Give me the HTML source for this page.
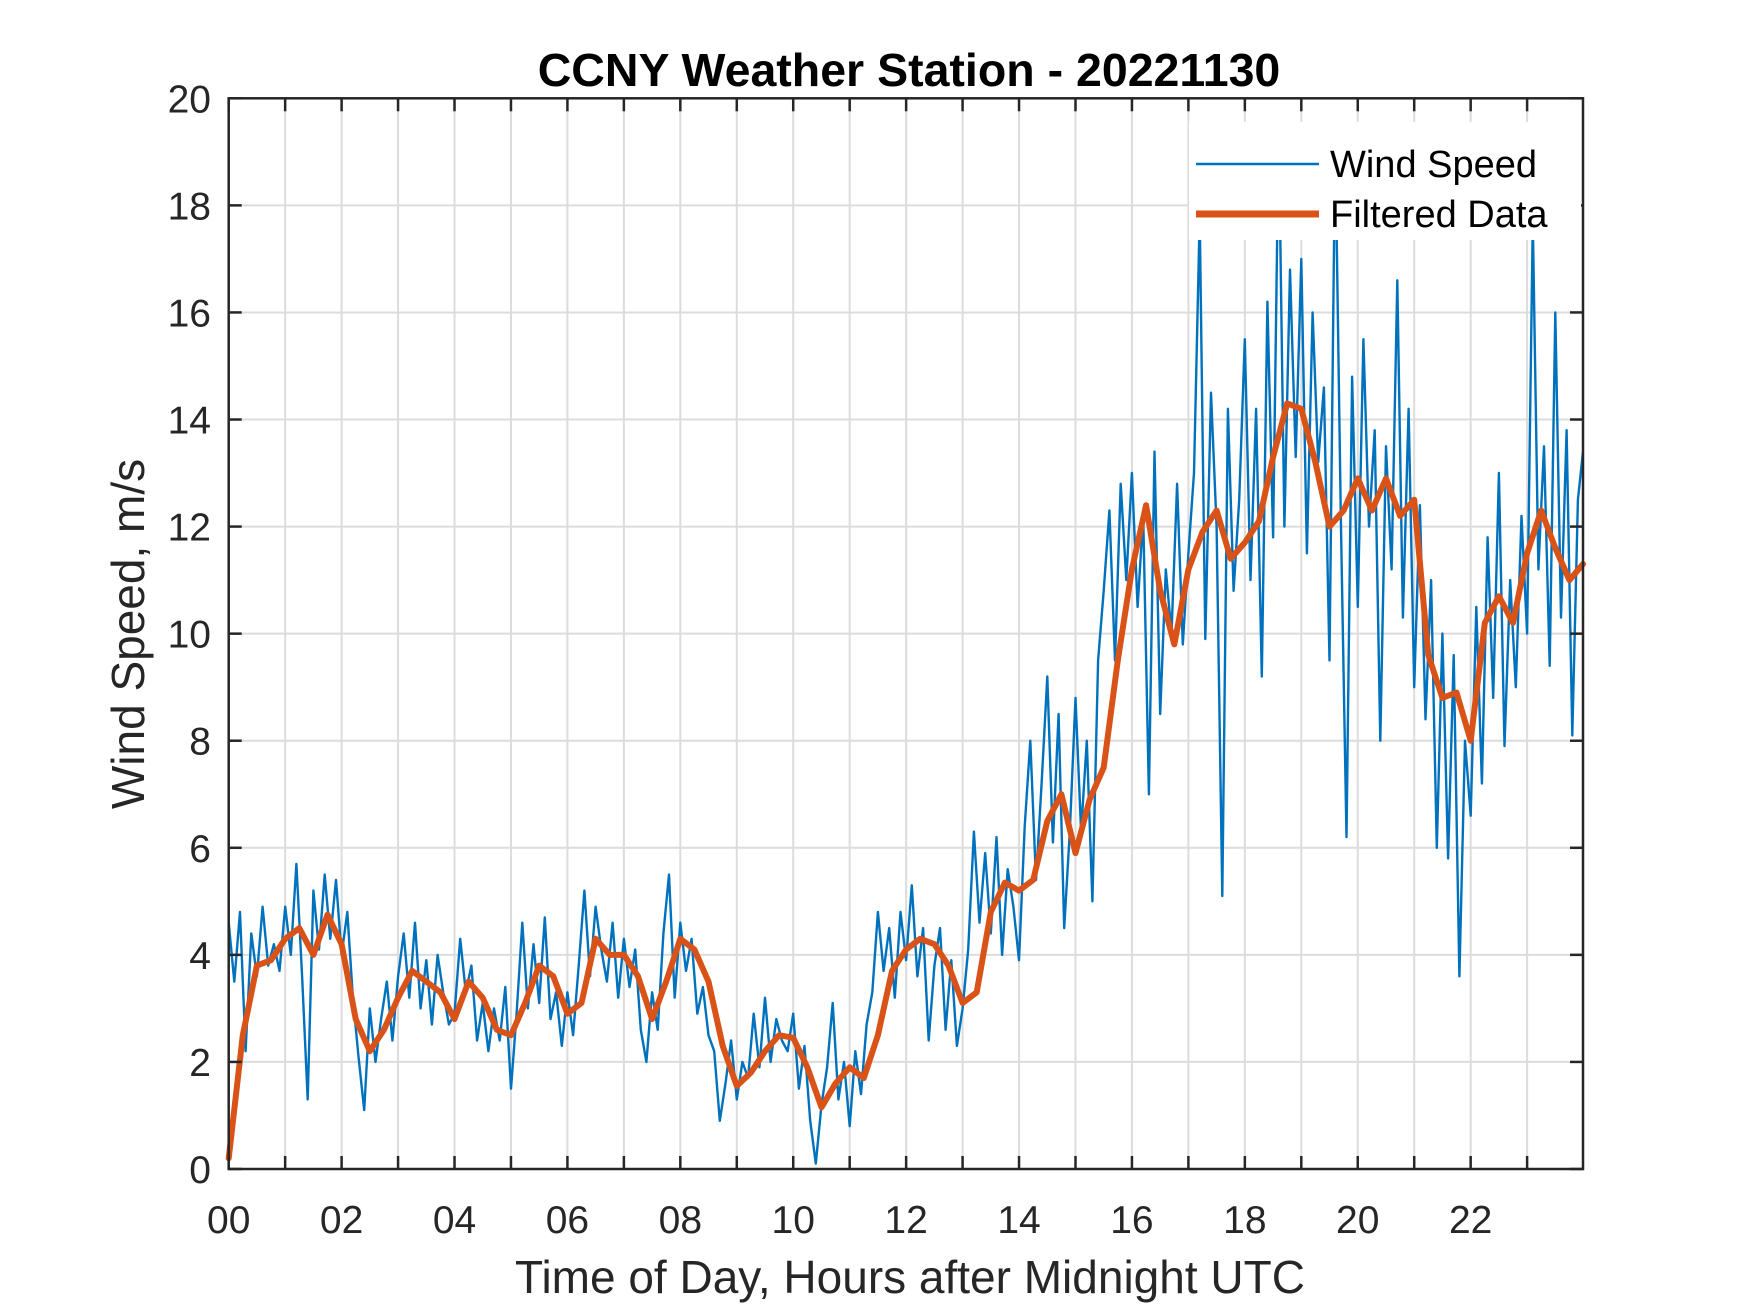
<!DOCTYPE html>
<html><head><meta charset="utf-8"><style>
html,body{margin:0;padding:0;background:#fff;}
svg{display:block;font-family:"Liberation Sans",Arial,sans-serif;}
</style></head><body>
<svg id="chart" width="1750" height="1313" viewBox="0 0 1750 1313" xmlns="http://www.w3.org/2000/svg">
<rect width="1750" height="1313" fill="#fff"/>
<g id="grid"></g>
<g id="series"></g>
<g id="axes"></g>
<text x="909" y="86" font-size="46.5" font-weight="bold" text-anchor="middle" fill="#000">CCNY Weather Station - 20221130</text>
<text x="910" y="1293" font-size="46" text-anchor="middle" fill="#262626">Time of Day, Hours after Midnight UTC</text>
<text transform="translate(144,634) rotate(-90)" font-size="46" text-anchor="middle" fill="#262626">Wind Speed, m/s</text>
<g>
<rect x="1189" y="122" width="392" height="118" fill="#fff"/>
<line x1="1196" y1="164" x2="1319" y2="164" stroke="#0072BD" stroke-width="2.5"/>
<text x="1330" y="177" font-size="38" fill="#000">Wind Speed</text>
<line x1="1196" y1="214" x2="1319" y2="214" stroke="#D95319" stroke-width="7"/>
<text x="1330" y="227" font-size="38" fill="#000">Filtered Data</text>
</g>
</svg>
<script>
const xTickValues=[0,2,4,6,8,10,12,14,16,18,20,22];
const xTickLabels=["00","02","04","06","08","10","12","14","16","18","20","22"];
const yTickValues=[0,2,4,6,8,10,12,14,16,18,20];
const windStep=0.1;
const windSpeed=[
4.6,3.5,4.8,2.2,4.4,3.6,4.9,3.8,4.2,3.7,
4.9,4.0,5.7,3.6,1.3,5.2,4.1,5.5,4.3,5.4,
4.0,4.8,3.2,2.1,1.1,3.0,2.0,2.8,3.5,2.4,
3.6,4.4,3.2,4.6,3.0,3.9,2.7,4.0,3.3,2.7,
2.9,4.3,3.3,3.8,2.4,3.1,2.2,3.0,2.4,3.4,
1.5,2.9,4.6,3.0,4.2,3.1,4.7,2.8,3.3,2.3,
3.3,2.5,3.8,5.2,3.6,4.9,4.1,3.5,4.6,3.2,
4.3,3.4,4.1,2.6,2.0,3.3,2.6,4.4,5.5,3.2,
4.6,3.7,4.3,2.9,3.4,2.5,2.2,0.9,1.6,2.4,
1.3,2.0,1.7,2.9,1.9,3.2,2.0,2.8,2.4,2.2,
2.9,1.5,2.3,0.9,0.1,1.2,1.9,3.1,1.3,2.0,
0.8,2.2,1.4,2.7,3.3,4.8,3.7,4.5,3.2,4.8,
3.9,5.3,3.6,4.5,2.4,3.8,4.5,2.6,3.9,2.3,
3.0,4.1,6.3,4.6,5.9,4.4,6.2,4.0,5.6,4.9,
3.9,6.4,8.0,5.4,7.2,9.2,6.1,8.5,4.5,6.3,
8.8,6.3,8.0,5.0,9.5,10.8,12.3,9.5,12.8,11.0,
13.0,10.5,12.2,7.0,13.4,8.5,11.2,10.0,12.8,9.8,
11.5,13.0,17.8,9.9,14.5,12.0,5.1,14.2,10.8,12.5,
15.5,11.0,14.2,9.2,16.2,11.8,19.5,12.0,16.8,13.3,
17.0,11.5,16.0,13.2,14.6,9.5,19.3,12.2,6.2,14.8,
10.5,15.5,12.0,13.8,8.0,13.5,11.2,16.6,10.3,14.2,
9.0,12.4,8.4,11.0,6.0,10.0,5.8,9.6,3.6,8.0,
6.6,10.5,7.2,11.8,8.8,13.0,7.9,11.0,9.0,12.2,
10.0,17.7,11.2,13.5,9.4,16.0,10.3,13.8,8.1,12.5,
13.4];
const filteredStep=0.25;
const filtered=[
0.2,2.5,3.8,3.9,4.3,4.5,4.0,4.75,4.2,2.8,2.2,2.6,3.2,3.7,3.5,3.3,
2.8,3.5,3.2,2.6,2.5,3.1,3.8,3.6,2.9,3.1,4.3,4.0,4.0,3.6,2.8,3.5,
4.3,4.1,3.5,2.3,1.55,1.8,2.2,2.5,2.45,1.9,1.15,1.6,1.9,1.7,2.5,3.7,
4.1,4.3,4.2,3.8,3.1,3.3,4.8,5.35,5.2,5.4,6.5,7.0,5.9,6.9,7.5,9.5,
11.2,12.4,10.8,9.8,11.2,11.9,12.3,11.4,11.7,12.1,13.3,14.3,14.2,13.2,12.0,12.3,
12.9,12.3,12.9,12.2,12.5,9.6,8.8,8.9,8.0,10.2,10.7,10.2,11.5,12.3,11.6,11.0,11.3];

const L=228.7,R=1583,T=98.3,B=1169,XMAX=23.99,YMAX=20;
function xs(v){return L+(R-L)*v/XMAX;}
function ys(v){return B-(B-T)*v/YMAX;}
const NS="http://www.w3.org/2000/svg";
function mk(tag,parent){const e=document.createElementNS(NS,tag);parent.appendChild(e);return e;}
const grid=document.getElementById('grid'),series=document.getElementById('series'),axes=document.getElementById('axes');
for(let h=1;h<24;h++){
  const g=mk('line',grid);
  
  
  g.setAttribute('x1',xs(h));g.setAttribute('x2',xs(h));g.setAttribute('y1',T);g.setAttribute('y2',B);
  g.setAttribute('stroke','#dcdcdc');g.setAttribute('stroke-width','2');
}
yTickValues.forEach(v=>{
  if(v===0||v===20)return;
  const g=mk('line',grid);
  
  
  g.setAttribute('x1',L);g.setAttribute('x2',R);g.setAttribute('y1',ys(v));g.setAttribute('y2',ys(v));
  g.setAttribute('stroke','#dcdcdc');g.setAttribute('stroke-width','2');
});
let p=windSpeed.map((v,i)=>xs(Math.min(i*windStep,XMAX)).toFixed(1)+','+ys(v).toFixed(1)).join(' ');
const wl=mk('polyline',series);


wl.setAttribute('points',p);wl.setAttribute('fill','none');wl.setAttribute('stroke','#0072BD');wl.setAttribute('stroke-width','2.4');wl.setAttribute('stroke-linejoin','round');
p=filtered.map((v,i)=>xs(Math.min(i*filteredStep,XMAX)).toFixed(1)+','+ys(v).toFixed(1)).join(' ');
const fl=mk('polyline',series);


fl.setAttribute('points',p);fl.setAttribute('fill','none');fl.setAttribute('stroke','#D95319');fl.setAttribute('stroke-width','6');fl.setAttribute('stroke-linejoin','round');fl.setAttribute('stroke-linecap','round');
const box=mk('rect',axes);


box.setAttribute('x',L);box.setAttribute('y',T);box.setAttribute('width',R-L);box.setAttribute('height',B-T);
box.setAttribute('fill','none');box.setAttribute('stroke','#262626');box.setAttribute('stroke-width','2.5');
for(let h=0;h<24;h++){
  [[B,B-13],[T,T+13]].forEach(([a,b])=>{
    const t=mk('line',axes);
    
    
    t.setAttribute('x1',xs(h));t.setAttribute('x2',xs(h));t.setAttribute('y1',a);t.setAttribute('y2',b);
    t.setAttribute('stroke','#262626');t.setAttribute('stroke-width','2.5');
  });
}
xTickValues.forEach((v,i)=>{
  const t=mk('text',axes);
  
  
  t.setAttribute('x',xs(v));t.setAttribute('y',1233);t.setAttribute('font-size','39');
  t.setAttribute('text-anchor','middle');t.setAttribute('fill','#262626');
  t.textContent=xTickLabels[i];
});
yTickValues.forEach(v=>{
  [[L,L+13],[R,R-13]].forEach(([a,b])=>{
    const t=mk('line',axes);
    
    
    t.setAttribute('x1',a);t.setAttribute('x2',b);t.setAttribute('y1',ys(v));t.setAttribute('y2',ys(v));
    t.setAttribute('stroke','#262626');t.setAttribute('stroke-width','2.5');
  });
  const t=mk('text',axes);
  
  
  t.setAttribute('x',211);t.setAttribute('y',ys(v)+14);t.setAttribute('font-size','39');
  t.setAttribute('text-anchor','end');t.setAttribute('fill','#262626');
  t.textContent=String(v);
});
</script>
</body></html>
